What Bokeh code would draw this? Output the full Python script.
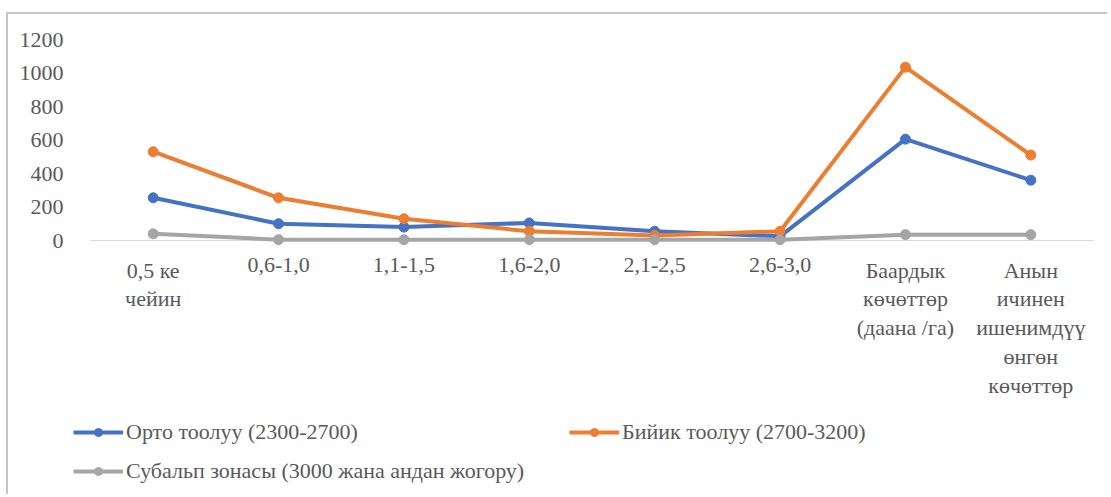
from bokeh.plotting import figure
from bokeh.models import Range1d, FixedTicker, Legend, LegendItem
from bokeh.embed import file_html
from bokeh.resources import INLINE

categories = [
    "0,5 ке\nчейин",
    "0,6-1,0",
    "1,1-1,5",
    "1,6-2,0",
    "2,1-2,5",
    "2,6-3,0",
    "Баардык\nкөчөттөр\n(даана /га)",
    "Анын\nичинен\nишенимдүү\nөнгөн\nкөчөттөр",
]
orto = [255, 100, 80, 105, 55, 25, 605, 360]
biyik = [530, 255, 130, 55, 30, 55, 1035, 510]
subalp = [40, 5, 5, 5, 5, 5, 35, 35]
series_names = [
    "Орто тоолуу (2300-2700)",
    "Бийик тоолуу (2700-3200)",
    "Субальп зонасы (3000 жана андан жогору)",
]
colors = ["#4472C4", "#ED7D31", "#A5A5A5"]
y_ticks = [0, 200, 400, 600, 800, 1000, 1200]

FONT = "Liberation Serif"
TXT = "#595959"
FS = "22px"

# layout (pixels)
W, H = 1101, 482
TOP = 25            # canvas top -> value 1200
PLOT_H = 201        # pixels between 0 and 1200
LEFT = 62           # canvas left -> frame left
CAT_W = 125.375     # pixels per category
CAT_X0 = 20         # frame left -> first category edge
ymax = y_ticks[-1]
upp = ymax / PLOT_H                      # value units per pixel
frame_h = H - TOP
frame_w = W - LEFT
n = len(categories)
xpos = [i + 0.5 for i in range(n)]

p = figure(
    width=W, height=H,
    x_range=Range1d(-CAT_X0 / CAT_W, (frame_w - CAT_X0) / CAT_W),
    y_range=Range1d(ymax - frame_h * upp, ymax),
    output_backend="svg", toolbar_location=None,
    min_border_left=LEFT, min_border_right=0, min_border_top=TOP, min_border_bottom=0,
)
p.styles = {"border-top": "2px solid #c4c4c4", "border-left": "2px solid #c4c4c4",
            "margin-top": "12px", "margin-left": "6px"}
p.outline_line_color = None
p.xgrid.grid_line_color = None
p.ygrid.grid_line_color = None
p.xaxis.visible = False

# category axis line
p.segment(x0=[0], y0=[0], x1=[n], y1=[0], line_color="#d9d9d9", line_width=1)

# category labels
p.text(x=xpos, y=[-17 * upp] * n, text=categories,
       text_font={"value": FONT}, text_font_size={"value": FS}, text_color=TXT,
       text_align="center", text_baseline="top", text_line_height=1.15)

items = []
for vals, name, col in zip([orto, biyik, subalp], series_names, colors):
    ln = p.line(xpos, vals, line_color=col, line_width=4)
    sc = p.scatter(xpos, vals, size=10, fill_color=col, line_color=col)
    items.append(LegendItem(label=name, renderers=[ln, sc]))

ya = p.yaxis[0]
ya.ticker = FixedTicker(ticks=y_ticks)
ya.axis_line_color = None
ya.major_tick_line_color = None
ya.minor_tick_line_color = None
ya.major_label_text_font = FONT
ya.major_label_text_font_size = FS
ya.major_label_text_color = TXT
ya.major_label_standoff = 1

legend = Legend(
    items=items, orientation="horizontal", ncols=2,
    location=(3, 12),
    border_line_color=None, background_fill_alpha=0,
    label_text_font=FONT, label_text_font_size=FS, label_text_color=TXT,
    glyph_width=50, glyph_height=20, label_height=26, label_width=430,
    label_standoff=3, spacing=13, padding=0, margin=0,
)
p.add_layout(legend, "center")

open("out.html", "w").write(file_html(p, INLINE))
